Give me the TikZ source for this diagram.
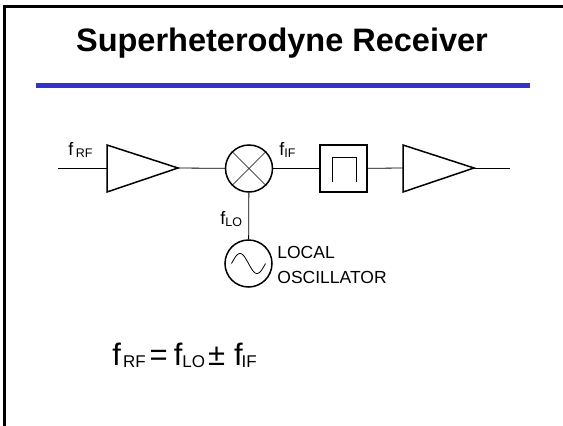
\documentclass[tikz,border=0pt]{standalone}
\usepackage{fontspec}
\setmainfont{Liberation Sans}
\definecolor{rulecol}{RGB}{51,51,204}
\newcommand{\flab}[2]{\fontsize{18}{21}\selectfont f\kern#2\raisebox{-2.5pt}{\fontsize{12.5}{14}\selectfont #1}}
\newcommand{\fbig}[2]{f\kern#2\raisebox{-2pt}{\fontsize{17}{20}\selectfont #1}}
\begin{document}
\begin{tikzpicture}[x=1pt,y=-1pt,line width=0.8pt,
    block/.style={draw,line width=1.5pt,inner sep=0pt,minimum size=47pt},
    lbl/.style={inner sep=0pt,anchor=base west}]
        \useasboundingbox (0,0) rectangle (563,426);
        \clip (0,0) rectangle (563,426);
        \draw[line width=3pt] (4.5,6.5) rectangle (620,427);

        % title and rule
        \node[inner sep=0pt,anchor=base] (title) at (282,51)
            {\fontsize{32.5}{38}\selectfont\bfseries Superheterodyne Receiver};
        \fill[rulecol] (36,83) rectangle (530,88);

        \coordinate (IN) at (58,168);
        \coordinate (A11) at (107,145);
        \coordinate (A12) at (107,192);
        \coordinate (A13) at (178,168);
        \coordinate (A1i) at (107,168);
        \coordinate (A21) at (403,145);
        \coordinate (A22) at (403,192);
        \coordinate (A23) at (474,168);
        \coordinate (A2i) at (403,168);
        \coordinate (OUT) at (510,168);

        \node[block,circle] (mix) at (249,168.5) {};
        \node[block] (filt) at (343.5,168.5) {};
        \node[block,circle] (osc) at (248.5,263.5) {};

        % amplifiers
        \draw[line width=1.5pt] (A11) -- (A12) -- (A13) -- cycle;
        \draw[line width=1.5pt] (A21) -- (A22) -- (A23) -- cycle;

        % signal path
        \draw (IN) -- (A1i);
        \draw (A13) -- (mix);
        \draw (mix) -- (filt);
        \draw (filt) -- (A2i);
        \draw (A23) -- (OUT);
        \draw (mix) -- (osc);

        % mixer cross, filter pulse, sine
        \draw[line width=0.6pt] (mix.north west) -- (mix.south east);
        \draw[line width=0.6pt] (mix.north east) -- (mix.south west);
        \draw ([shift={(-11.5,13.5)}]filt.center) -- ++(0,-25) -- ++(24,0) -- ++(0,25);
        \draw[shift={(osc.center)}] plot[domain=-17:17,samples=40,smooth] (\x,{10*sin(\x*360/34)});

        % labels
        \node[lbl] (fRF) at (68,155) {\flab{RF}{2.5pt}};
        \node[lbl] (fIF) at (279,155) {\flab{IF}{0pt}};
        \node[lbl] (fLO) at (220,224) {\flab{LO}{0pt}};
        \node[lbl] (loc) at (277,258) {\fontsize{17.5}{21}\selectfont LOCAL};
        \node[lbl] (osctxt) at (277,283) {\fontsize{17.5}{21}\selectfont OSCILLATOR};

        % formula
        \node[lbl] (eq) at (112,365) {\fontsize{31}{36}\selectfont
            \fbig{RF}{2pt}\kern4pt=\kern6pt\fbig{LO}{0pt}\kern3pt±\kern9pt\fbig{IF}{-1pt}};
    \end{tikzpicture}
\end{document}
